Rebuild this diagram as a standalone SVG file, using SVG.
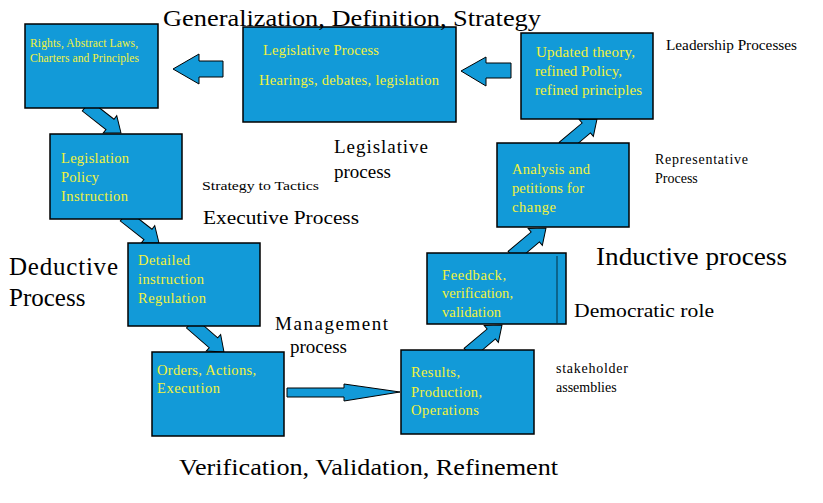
<svg xmlns="http://www.w3.org/2000/svg" width="823" height="503" viewBox="0 0 823 503">
<style>
.box{fill:#129ad8;stroke:#000;stroke-width:1.5}
.arr{fill:#129ad8;stroke:#000;stroke-width:1}
text{font-family:"Liberation Serif","DejaVu Serif","Noto Serif",serif}
.bt{fill:#f2f23c}
.lb{fill:#000}
</style>
<defs>
<polygon id="darr" points="0,0 -14,-11 -14,-6.5 -44,-6.5 -44,6.5 -14,6.5 -14,11"/>
</defs>
<rect width="823" height="503" fill="#fff"/>
<g id="connectors">
<use href="#darr" class="arr" transform="translate(121,133) rotate(38)"/>
<use href="#darr" class="arr" transform="translate(159,243) rotate(38)"/>
<use href="#darr" class="arr" transform="translate(224,352) rotate(41)"/>
<use href="#darr" class="arr" transform="translate(502,325) rotate(-40)"/>
<use href="#darr" class="arr" transform="translate(546,228) rotate(-40)"/>
<use href="#darr" class="arr" transform="translate(597,119) rotate(-40)"/>
<polygon class="arr" points="461,71 486,57 486,63 511,63 511,78 486,78 486,86"/>
<polygon class="arr" points="173,69 199,54 199,61 223,61 223,77 199,77 199,84"/>
<polygon class="arr" points="287,388 344,388 344,384 400,392 344,401 344,397 287,397"/>
</g>
<g id="rights">
<rect class="box" x="25" y="24" width="133" height="84"/>
<text class="bt" font-size="11.5" lengthAdjust="spacingAndGlyphs"><tspan x="30" y="47" textLength="108">Rights, Abstract Laws,</tspan><tspan x="30" y="62" textLength="109">Charters and Principles</tspan></text>
</g>
<g id="legislative">
<rect class="box" x="243" y="27" width="213" height="95"/>
<text class="bt" font-size="14.5"><tspan x="263" y="55" textLength="116">Legislative Process</tspan><tspan x="259" y="85" textLength="180">Hearings, debates, legislation</tspan></text>
</g>
<g id="updated">
<rect class="box" x="521" y="33" width="132" height="86" stroke-width="2"/>
<text class="bt" font-size="15"><tspan x="536" y="57" textLength="99">Updated theory,</tspan><tspan x="535" y="76" textLength="87">refined Policy,</tspan><tspan x="535" y="95" textLength="107">refined principles</tspan></text>
</g>
<g id="legislation">
<rect class="box" x="50" y="134" width="132" height="85" stroke-width="3"/>
<text class="bt" font-size="14.5"><tspan x="61" y="163" textLength="68">Legislation</tspan><tspan x="61" y="182" textLength="38">Policy</tspan><tspan x="61" y="201" textLength="67">Instruction</tspan></text>
</g>
<g id="detailed">
<rect class="box" x="128" y="243" width="132" height="83"/>
<text class="bt" font-size="14.5"><tspan x="138" y="265" textLength="52">Detailed</tspan><tspan x="138" y="284" textLength="66">instruction</tspan><tspan x="138" y="303" textLength="68">Regulation</tspan></text>
</g>
<g id="orders">
<rect class="box" x="152" y="352" width="132" height="84"/>
<text class="bt" font-size="14.5"><tspan x="157" y="375" textLength="99">Orders, Actions,</tspan><tspan x="157" y="393" textLength="63">Execution</tspan></text>
</g>
<g id="results">
<rect class="box" x="401" y="350" width="133" height="84"/>
<text class="bt" font-size="14.5"><tspan x="411" y="377" textLength="49">Results,</tspan><tspan x="411" y="397" textLength="71">Production,</tspan><tspan x="411" y="415" textLength="68">Operations</tspan></text>
</g>
<g id="feedback">
<rect class="box" x="427" y="253" width="139" height="71"/>
<line x1="557" y1="256" x2="557" y2="323" stroke="#000" stroke-width="0.7"/>
<text class="bt" font-size="14.5"><tspan x="442" y="280" textLength="64">Feedback,</tspan><tspan x="442" y="298" textLength="71">verification,</tspan><tspan x="442" y="317" textLength="59">validation</tspan></text>
</g>
<g id="analysis">
<rect class="box" x="497" y="143" width="132" height="84" stroke-width="2"/>
<text class="bt" font-size="14.5"><tspan x="512" y="174" textLength="78">Analysis and</tspan><tspan x="512" y="193" textLength="72">petitions for</tspan><tspan x="512" y="212" textLength="44">change</tspan></text>
</g>
<g id="labels">
<text class="lb" x="163" y="26" font-size="24" textLength="378" lengthAdjust="spacingAndGlyphs">Generalization, Definition, Strategy</text>
<text class="lb" x="666" y="50" font-size="14" textLength="131" lengthAdjust="spacingAndGlyphs">Leadership Processes</text>
<text class="lb" font-size="19"><tspan x="334" y="153" textLength="94">Legislative</tspan><tspan x="334" y="178">process</tspan></text>
<text class="lb" x="202" y="190" font-size="13" textLength="117" lengthAdjust="spacingAndGlyphs">Strategy  to Tactics</text>
<text class="lb" x="203" y="224" font-size="18" textLength="156" lengthAdjust="spacingAndGlyphs">Executive Process</text>
<text class="lb" font-size="25"><tspan x="9" y="275" textLength="109">Deductive</tspan><tspan x="9" y="306">Process</tspan></text>
<text class="lb" font-size="19"><tspan x="275" y="330" textLength="113">Management</tspan><tspan x="290" y="353">process</tspan></text>
<text class="lb" font-size="14"><tspan x="655" y="164" textLength="93">Representative</tspan><tspan x="655" y="183">Process</tspan></text>
<text class="lb" x="596" y="265" font-size="25" textLength="191" lengthAdjust="spacingAndGlyphs">Inductive process</text>
<text class="lb" x="574" y="317" font-size="19" textLength="140" lengthAdjust="spacingAndGlyphs">Democratic role</text>
<text class="lb" font-size="14"><tspan x="556" y="373" textLength="72">stakeholder</tspan><tspan x="556" y="392">assemblies</tspan></text>
<text class="lb" x="179" y="475" font-size="24" textLength="379" lengthAdjust="spacingAndGlyphs">Verification, Validation, Refinement</text>
</g>
</svg>
